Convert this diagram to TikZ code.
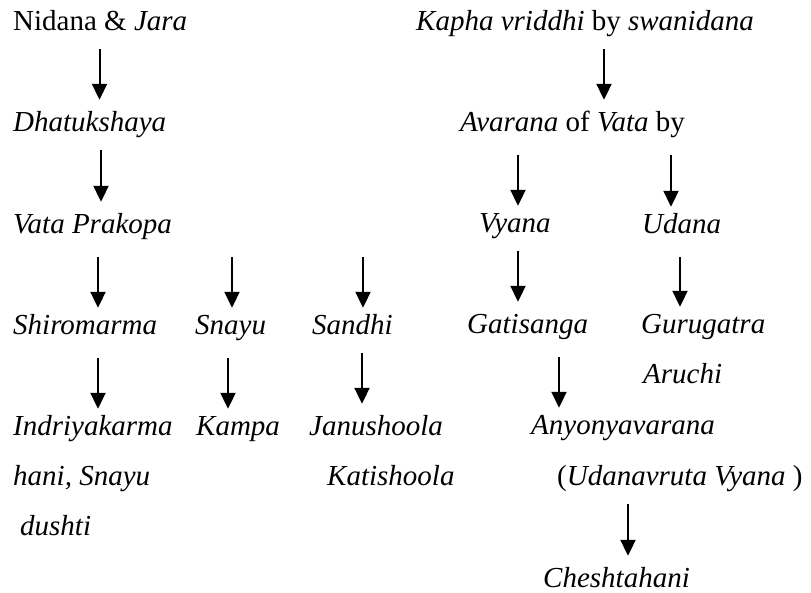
\documentclass[tikz,border=0pt]{standalone}
\usepackage{fontspec}
\setmainfont{Liberation Serif}
\usepackage{tikz}
\usetikzlibrary{arrows.meta}
\tikzset{
    term/.style = {anchor=base west, inner sep=0pt, text height=20pt, text depth=6pt, font=\fontsize{29}{34}\selectfont},
    arrow-a/.style = {-{Triangle[width=15pt,length=16pt]}, line width=2pt, shorten <=13pt, shorten >=11pt},
    arrow-b/.style = {-{Triangle[width=15pt,length=16pt]}, line width=2pt, shorten <=18pt, shorten >=6pt},
}

\begin{document}
\begin{tikzpicture}[x=1pt,y=1pt]
\useasboundingbox (0,0) rectangle (811,-592);
% left branch
\node[term] (nid) at (13,-30) {Nidana \& \textit{Jara}};
\node[term] (dhat) at (13,-131) {\textit{Dhatukshaya}};
\node[term] (vata) at (13,-233) {\textit{Vata Prakopa}};
\node[term] (shiro) at (13,-334) {\textit{Shiromarma}};
\node[term] (snayu) at (195,-334) {\textit{Snayu}};
\node[term] (sandhi) at (312,-334) {\textit{Sandhi}};
\node[term] (indr) at (13,-435) {\textit{Indriyakarma}};
\node[term] (hani) at (13,-485) {\textit{hani, Snayu}};
\node[term] (dush) at (20,-535) {\textit{dushti}};
\node[term] (kampa) at (196,-435) {\textit{Kampa}};
\node[term] (janu) at (309,-435) {\textit{Janushoola}};
\node[term] (kati) at (327,-485) {\textit{Katishoola}};
% right branch
\node[term] (kapha) at (416,-30) {\textit{Kapha vriddhi} by \textit{swanidana}};
\node[term] (avar) at (460,-131) {\textit{Avarana} of \textit{Vata} by};
\node[term] (vyana) at (479,-232) {\textit{Vyana}};
\node[term] (udana) at (642,-233) {\textit{Udana}};
\node[term] (gati) at (467,-333) {\textit{Gatisanga}};
\node[term] (guru) at (641,-333) {\textit{Gurugatra}};
\node[term] (aruchi) at (643,-383) {\textit{Aruchi}};
\node[term] (anyo) at (531,-434) {\textit{Anyonyavarana}};
\node[term] (udv) at (557,-485) {(\textit{Udanavruta Vyana} )};
\node[term] (chesh) at (543,-587) {\textit{Cheshtahani}};

\draw[arrow-a] (nid.south -| 99.5,0) -- (dhat.north -| 99.5,0);
\draw[arrow-a] (dhat.south -| 101,0) -- (vata.north -| 101,0);
\draw[arrow-b] (vata.south -| 98,0) -- (shiro.north -| 98,0);
\draw[arrow-b] (vata.south -| 232,0) -- (snayu.north -| 232,0);
\draw[arrow-b] (vata.south -| 363,0) -- (sandhi.north -| 363,0);
\draw[arrow-b] (shiro.south -| 98,0) -- (indr.north -| 98,0);
\draw[arrow-b] (snayu.south -| 228,0) -- (kampa.north -| 228,0);
\draw[arrow-a] (sandhi.south -| 362,0) -- (janu.north -| 362,0);

\draw[arrow-a] (kapha.south -| 604,0) -- (avar.north -| 604,0);
\draw[arrow-b] (avar.south -| 518,0) -- (vyana.north -| 518,0);
\draw[arrow-b] (avar.south -| 671,0) -- (udana.north -| 671,0);
\draw[arrow-a] (vyana.south -| 518,0) -- (gati.north -| 518,0);
\draw[arrow-b] (udana.south -| 680,0) -- (guru.north -| 680,0);
\draw[arrow-b] (gati.south -| 559,0) -- (anyo.north -| 559,0);
\draw[arrow-a] (udv.south -| 628,0) -- (chesh.north -| 628,0);
\end{tikzpicture}
\end{document}
